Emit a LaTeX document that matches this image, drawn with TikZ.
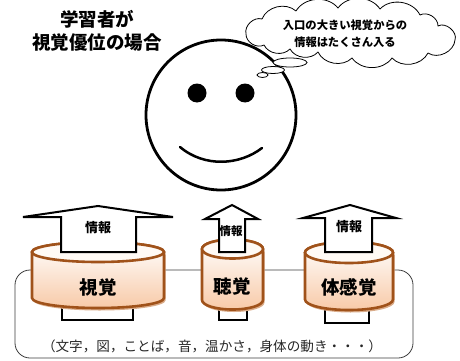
\documentclass[tikz,border=0pt]{standalone}
\usepackage{fontspec}
\setmainfont{Noto Sans CJK JP}

\definecolor{drumline}{RGB}{160,82,26}
\definecolor{drumlow}{RGB}{248,202,168}
\definecolor{drumcap}{RGB}{255,250,245}
\definecolor{drumshade}{RGB}{218,172,138}
\definecolor{framegray}{RGB}{60,60,60}

% drum: centre x, top-rim y, bottom-rim y, x radius, y radius
\newcommand{\drum}[5]{%
  \fill[drumshade] ({#1-#4+1.5},{#2+2.5}) -- ({#1-#4+1.5},{#3+2.5})
    arc[start angle=180,end angle=0,x radius=#4,y radius=#5] -- ({#1+#4+1.5},{#2+2.5}) -- cycle;
  \draw[drumedge,top color=white,bottom color=drumlow] ({#1-#4},#2) -- ({#1-#4},#3)
    arc[start angle=180,end angle=0,x radius=#4,y radius=#5] -- ({#1+#4},#2)
    arc[start angle=0,end angle=-180,x radius=#4,y radius=#5] -- cycle;
  \draw[drumedge,fill=drumcap] (#1,#2) ellipse[x radius=#4,y radius=#5];
}

% block arrow: head left, head right, head base y, apex x, apex y, shaft left, shaft right, shaft bottom
\newcommand{\blockarrow}[8]{%
  \draw[arrowedge] (#1,#3) -- (#4,#5) -- (#2,#3) -- (#7,#3) -- (#7,#8) -- (#6,#8) -- (#6,#3) -- cycle;
}

\tikzset{
  drumedge/.style={draw=drumline,line width=2.6pt},
  arrowedge/.style={draw=black,fill=white,line width=2pt,line join=miter},
  stubbox/.style={draw=black,fill=white,line width=1.8pt},
  sensebox/.style={draw=framegray,line width=0.8pt,rounded corners=15pt},
  facestroke/.style={line width=2.8pt},
  bubble/.style={draw=black,fill=white,line width=0.8pt},
  puff/.style={bend left=#1},
  headtxt/.style={font=\fontsize{18.5}{22.5}\selectfont\bfseries,align=center,inner sep=0pt},
  cloudtxt/.style={font=\fontsize{11.3}{17}\selectfont\bfseries,align=center,inner sep=0pt},
  infotxt/.style={font=\fontsize{13}{13}\selectfont\bfseries,inner sep=0pt},
  sensetxt/.style={font=\fontsize{18.5}{18.5}\selectfont\bfseries,inner sep=0pt},
  listtxt/.style={font=\fontsize{13.6}{13.6}\selectfont,inner sep=0pt,text=black!85}
}

\begin{document}
\begin{tikzpicture}[x=1pt,y=-1pt]
\useasboundingbox (0,0) rectangle (460,361);

% frame holding the senses
\draw[sensebox] (15,270) rectangle (413,358);

% shaft ends showing beneath each drum
\draw[stubbox] (62,290) rectangle (133,320);
\draw[stubbox] (219,290) rectangle (247,320);
\draw[stubbox] (325,290) rectangle (369,323);

% the three sense drums
\drum{98}{252}{298}{66}{10}
\drum{232.5}{249}{300}{30.5}{9.5}
\drum{349}{252.5}{299.5}{44}{10.5}

% information arrows rising from each drum
\blockarrow{23}{173}{217}{98}{206}{61}{136}{252}
\blockarrow{205}{258}{219}{232}{205}{219}{245}{252}
\blockarrow{303}{396}{218}{350}{205}{325}{372}{252}

\node[infotxt] (infoA) at (98,228) {情報};
\node[infotxt,font=\fontsize{11.5}{11.5}\selectfont\bfseries] (infoB) at (231,231) {情報};
\node[infotxt] (infoC) at (349,227) {情報};

\node[sensetxt] (sight) at (98,287) {視覚};
\node[sensetxt] (hearing) at (232,286) {聴覚};
\node[sensetxt] (body) at (349,287) {体感覚};

\node[listtxt] (examples) at (212,346) {（文字，図，ことば，音，温かさ，身体の動き・・・）};

% face
\draw[facestroke,fill=white] (221,115) circle[radius=75];
\fill (197,93) circle[radius=9.5];
\fill (245,93) circle[radius=9.5];
\draw[line width=2.5pt,line cap=round] (180,147) .. controls (205,168) and (240,165) .. (262,148);

% thought cloud, traced puff by puff
\draw[bubble,line join=round]
  (246,34) to[puff=60] (262,19) to[puff=55] (296,11) to[puff=55] (338,8)
  to[puff=55] (380,9) to[puff=55] (420,15) to[puff=60] (438,26)
  to[puff=70] (455,40) to[puff=60] (428,53) to[puff=55] (392,58)
  to[puff=55] (352,58) to[puff=55] (318,52) to[puff=55] (290,49)
  to[puff=55] (264,45) to[puff=60] cycle;
\draw[bubble] (290,62.5) ellipse[x radius=17,y radius=4.5];
\draw[bubble] (273,70) ellipse[x radius=11.5,y radius=3.5];
\draw[bubble] (262.5,75) ellipse[x radius=5.5,y radius=2.5];
\node[cloudtxt] (thoughttext) at (345,33.5) {入口の大きい視覚からの\\情報はたくさん入る};

% heading
\node[headtxt] (heading) at (97,31) {学習者が\\視覚優位の場合};
\end{tikzpicture}
\end{document}
